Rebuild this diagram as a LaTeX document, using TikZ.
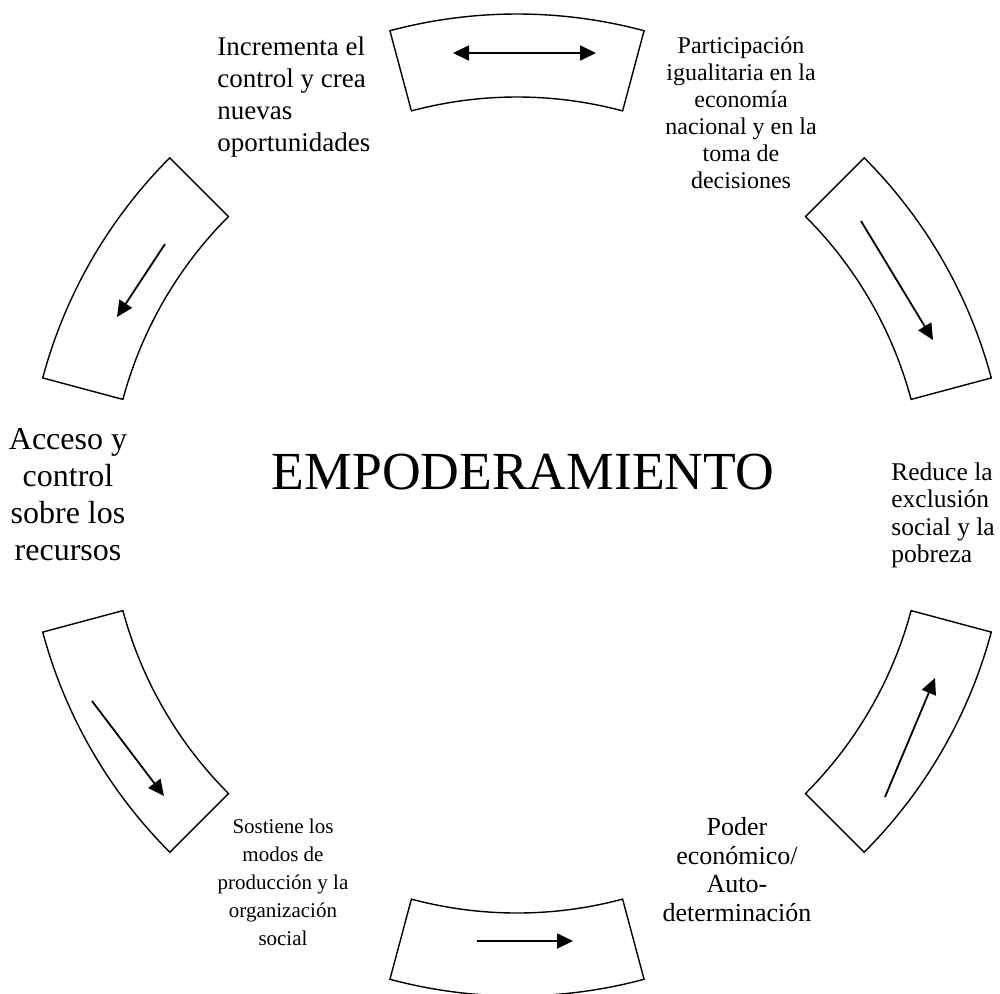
\documentclass[tikz,border=0pt]{standalone}
\usepackage{fontspec}
\setmainfont{Liberation Serif}
\usetikzlibrary{arrows.meta}

\begin{document}
\begin{tikzpicture}[x=0.5pt,y=0.5pt,
  arcbox/.style={draw,line width=0.7pt},
  flowarrow/.style={line width=0.9pt,>={Triangle[length=8pt,width=7.5pt]}},
  txt/.style={inner sep=0pt}]
\useasboundingbox (-517,505) rectangle (483,-488);
% six block arcs round the centre
\foreach \a in {15,75,...,315}
  \draw[arcbox] (\a:408) -- (\a:491) arc[start angle=\a, delta angle=30, radius=491]
    -- ({\a+30}:408) arc[start angle={\a+30}, delta angle=-30, radius=408] -- cycle;
% arrows inside the arcs
\coordinate (t1) at (-64,452);  \coordinate (t2) at (79,452);
\coordinate (rt1) at (344,284); \coordinate (rt2) at (416,165);
\coordinate (rb1) at (368,-292); \coordinate (rb2) at (418,-173);
\coordinate (b1) at (-40,-436); \coordinate (b2) at (56,-436);
\coordinate (lb1) at (-425,-196); \coordinate (lb2) at (-353,-291);
\coordinate (lt1) at (-352,261); \coordinate (lt2) at (-400,188);
\draw [flowarrow,<->] (t1) -- (t2);
\draw [flowarrow,->] (rt1) -- (rt2);
\draw [flowarrow,->] (rb1) -- (rb2);
\draw [flowarrow,->] (b1) -- (b2);
\draw [flowarrow,->] (lb1) -- (lb2);
\draw [flowarrow,->] (lt1) -- (lt2);
% labels
\node [txt, font=\fontsize{26.8pt}{30pt}\selectfont] (emp) at (6,33) {EMPODERAMIENTO};
\node [txt, anchor=north west, align=left, font=\fontsize{13.5pt}{16pt}\selectfont] (incr) at (-300,469) {Incrementa el\\control y crea\\nuevas\\oportunidades};
\node [txt, anchor=north, align=center, font=\fontsize{12pt}{13.5pt}\selectfont] (part) at (224,469) {Participación\\igualitaria en la\\economía\\nacional y en la\\toma de\\decisiones};
\node [txt, anchor=north west, align=left, font=\fontsize{12.75pt}{13.8pt}\selectfont] (red) at (374,43) {Reduce la\\exclusión\\social y la\\pobreza};
\node [txt, anchor=north, align=center, font=\fontsize{13pt}{14.3pt}\selectfont] (pod) at (220,-312) {Poder\\económico/\\Auto-\\determinación};
\node [txt, anchor=north, align=center, font=\fontsize{10.5pt}{14pt}\selectfont] (sost) at (-234,-314) {Sostiene los\\modos de\\producción y la\\organización\\social};
\node [txt, anchor=north, align=center, font=\fontsize{16pt}{18.5pt}\selectfont] (acc) at (-449,77) {Acceso y\\control\\sobre los\\recursos};
\end{tikzpicture}
\end{document}
